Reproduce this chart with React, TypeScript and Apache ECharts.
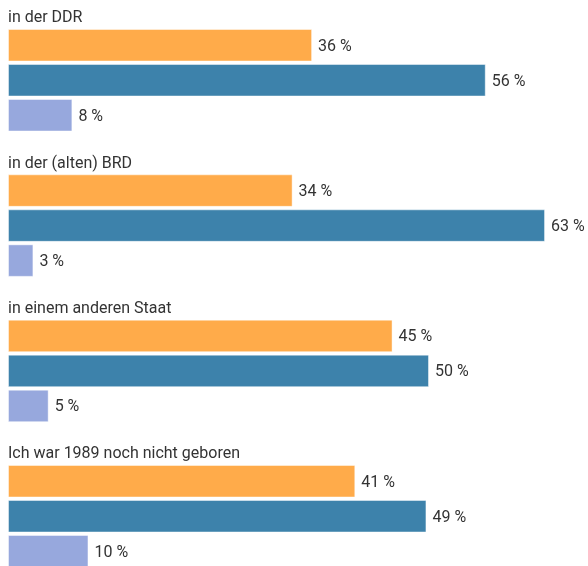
import React, { useEffect, useRef } from "react";
import * as echarts from "echarts";

const categories = [
  "in der DDR",
  "in der (alten) BRD",
  "in einem anderen Staat",
  "Ich war 1989 noch nicht geboren",
];
const seriesOrange = [35.9, 33.6, 45.4, 41.0];
const seriesDark = [56.4, 63.4, 49.7, 49.4];
const seriesLight = [7.6, 3.0, 4.8, 9.5];
const colors = ["#ffab4a", "#3d82ab", "#97a8dd"];

export default function App() {
  const ref = useRef<HTMLDivElement>(null);
  useEffect(() => {
    document.body.style.overflow = "hidden";
    if (!ref.current) return;
    const chart = echarts.init(ref.current, null, { renderer: "svg" });
    const font = "Roboto";
    const mk = (name: string, data: number[], color: string) => ({
      type: "bar",
      name,
      data,
      barWidth: 32.5,
      barGap: "7.7%",
      itemStyle: { color, borderColor: "rgba(255,255,255,0.45)", borderWidth: 1 },
      label: {
        show: true,
        position: "right",
        distance: 6,
        color: "#333",
        fontSize: 16,
        fontFamily: font,
        formatter: (p: any) => Math.round(p.value) + " %",
      },
    });
    chart.setOption({
      animation: false,
      grid: { left: 8, top: 7.6, height: 581.3, width: 576 },
      xAxis: {
        type: "value",
        min: 0,
        max: 68,
        show: false,
      },
      yAxis: {
        type: "category",
        data: categories,
        inverse: true,
        axisLine: { show: false },
        axisTick: { show: false },
        splitLine: { show: false },
        axisLabel: { show: false },
      },
      series: [
        mk("orange", seriesOrange, colors[0]),
        mk("dark", seriesDark, colors[1]),
        mk("light", seriesLight, colors[2]),
      ],
    });
    const x0 = chart.convertToPixel({ xAxisIndex: 0 }, 0) as number;
    chart.setOption({
      graphic: categories.map((c) => {
        const yc = chart.convertToPixel({ yAxisIndex: 0 }, c) as number;
        return {
          type: "text",
          x: x0,
          y: yc - 63.5,
          style: {
            text: c,
            fill: "#333",
            font: `16px ${font}`,
            textAlign: "left",
            textVerticalAlign: "middle",
          },
        };
      }),
    });
    return () => chart.dispose();
  }, []);
  return <div ref={ref} style={{ width: 588, height: 600, position: "fixed", left: 0, top: 0 }} />;
}
